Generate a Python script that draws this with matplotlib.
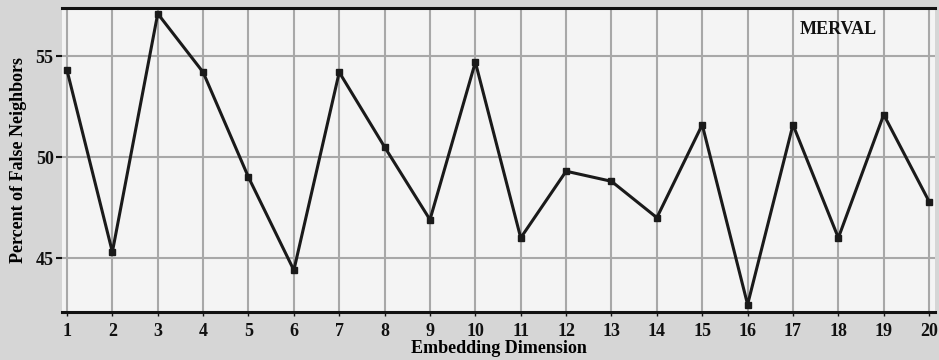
import matplotlib.pyplot as plt
import numpy as np

# embedding dimension vs percent of false nearest neighbours
dims = list(range(1, 21))
pfn = [54.3, 45.3, 57.1, 54.2, 49.0, 44.4, 54.2, 50.5, 46.9, 54.7,
       46.0, 49.3, 48.8, 47.0, 51.6, 42.7, 51.6, 46.0, 52.1, 47.8]
yticks = [45, 50, 55]
series_name = "MERVAL"

plt.rcParams['font.family'] = ['Liberation Serif', 'DejaVu Serif']
plt.rcParams['font.weight'] = 'bold'

fig = plt.figure(figsize=(9.39, 3.6), dpi=100)
fig.patch.set_facecolor('#d6d6d6')
ax = fig.add_axes([62/939, 48/360, (935-62)/939, (312-8)/360])
ax.set_facecolor('#f4f4f4')

ax.plot(dims, pfn, color='#1a1a1a', lw=2.2, marker='s', ms=4.5,
        mfc='#1a1a1a', mec='#1a1a1a', zorder=3)

ax.set_xlim(0.89, 20.13)
ax.set_ylim(42.33, 57.38)
ax.set_xticks(dims)
ax.set_yticks(yticks)
ax.grid(True, color='#a8a8a8', lw=1.5, zorder=0)
ax.set_axisbelow(True)

for side in ['left', 'right']:
    ax.spines[side].set_visible(False)
for side in ['top', 'bottom']:
    ax.spines[side].set_linewidth(2.2)
    ax.spines[side].set_color('#111111')

ax.tick_params(axis='x', length=3, width=1, pad=5, labelsize=13, colors='#111111')
ax.tick_params(axis='y', length=4, width=1.5, pad=2, labelsize=13, colors='#111111')

ax.set_xlabel("Embedding Dimension", fontsize=13, fontweight='bold', labelpad=0)
ax.set_ylabel("Percent of False Neighbors", fontsize=13, fontweight='bold', labelpad=6)
ax.text(18.0, 56.3, series_name, fontsize=13, fontweight='bold',
        ha='center', va='center', color='#111111')

fig.savefig('out.png', dpi=100, facecolor=fig.get_facecolor())
